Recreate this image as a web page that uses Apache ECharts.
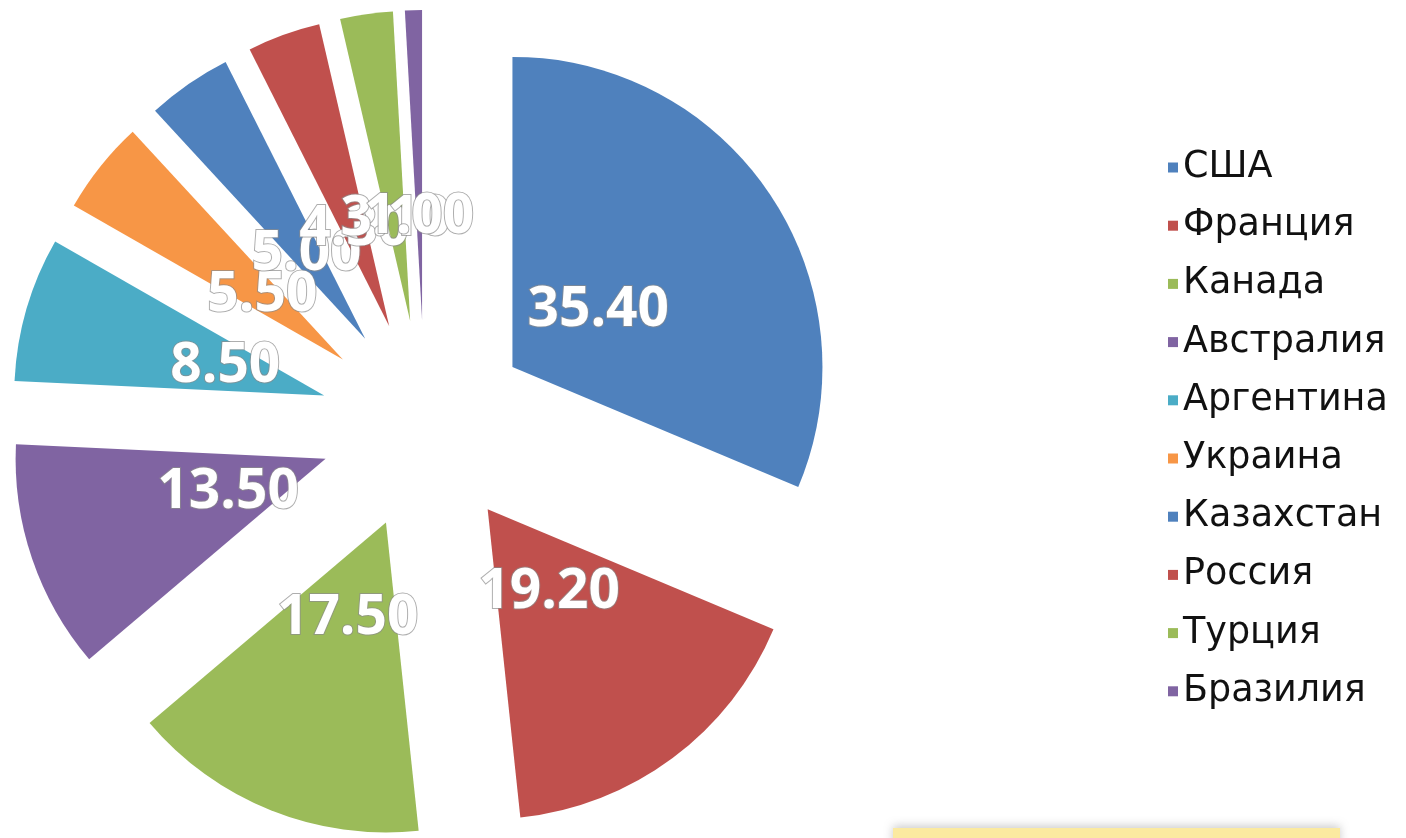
<!DOCTYPE html>
<html>
<head>
<meta charset="utf-8">
<script src="https://cdn.jsdelivr.net/npm/echarts@6/dist/echarts.min.js"></script>
<style>
  html, body { margin: 0; padding: 0; background: #fff; }
  #chart { width: 1406px; height: 838px; }
</style>
</head>
<body>
<div id="chart"></div>
<script>
var countries = ['США', 'Франция', 'Канада', 'Австралия', 'Аргентина', 'Украина', 'Казахстан', 'Россия', 'Турция', 'Бразилия'];
var values = [35.40, 19.20, 17.50, 13.50, 8.50, 5.50, 5.00, 4.30, 3.10, 1.00];
var color = ['#4f81bd', '#c0504d', '#9bbb59', '#8064a2', '#4bacc6', '#f79646', '#4f81bd', '#c0504d', '#9bbb59', '#8064a2'];

var mychart = echarts.init(document.getElementById('chart'));

// every slice is pulled out of the pie
var pieData = countries.map(function (name, i) {
    return { name: name, value: values[i], selected: true };
});

var option = {
    animation: false,
    color: color,
    legend: {
        orient: 'vertical',
        left: 1163,
        top: 144,
        icon: 'rect',
        itemWidth: 10,
        itemHeight: 10,
        itemGap: 21.2,
        selectedMode: false,
        data: countries,
        textStyle: {
            fontFamily: 'DejaVu Sans',
            fontSize: 36.5,
            lineHeight: 36,
            color: '#111'
        }
    },
    series: [
        {
            type: 'pie',
            center: [425, 425],
            radius: [0, 310],
            startAngle: 90,
            clockwise: true,
            selectedMode: 'multiple',
            selectedOffset: 105,
            label: { show: false },
            labelLine: { show: false },
            emphasis: { disabled: true },
            data: pieData
        },
        {
            // invisible inner pie, only used to place the value labels nearer the tip
            type: 'pie',
            center: [425, 425],
            radius: [0, 200],
            startAngle: 90,
            clockwise: true,
            selectedMode: 'multiple',
            selectedOffset: 105,
            avoidLabelOverlap: false,
            silent: true,
            itemStyle: { color: 'rgba(0,0,0,0)' },
            label: {
                show: true,
                position: 'inside',
                formatter: function (p) { return p.value.toFixed(2); },
                fontFamily: 'Open Sans',
                fontWeight: 'bold',
                fontSize: 55,
                color: '#fff',
                textBorderColor: 'rgba(140,140,140,0.7)',
                textBorderWidth: 2
            },
            labelLine: { show: false },
            labelLayout: { hideOverlap: false },
            emphasis: { disabled: true },
            data: pieData
        }
    ],
    graphic: [
        {
            type: 'rect',
            shape: { x: 893, y: 828, width: 447, height: 30 },
            style: {
                fill: '#fbeaa0',
                shadowBlur: 10,
                shadowColor: 'rgba(120,120,120,0.4)',
                shadowOffsetY: -2
            }
        }
    ]
};

mychart.setOption(option);
</script>
</body>
</html>
